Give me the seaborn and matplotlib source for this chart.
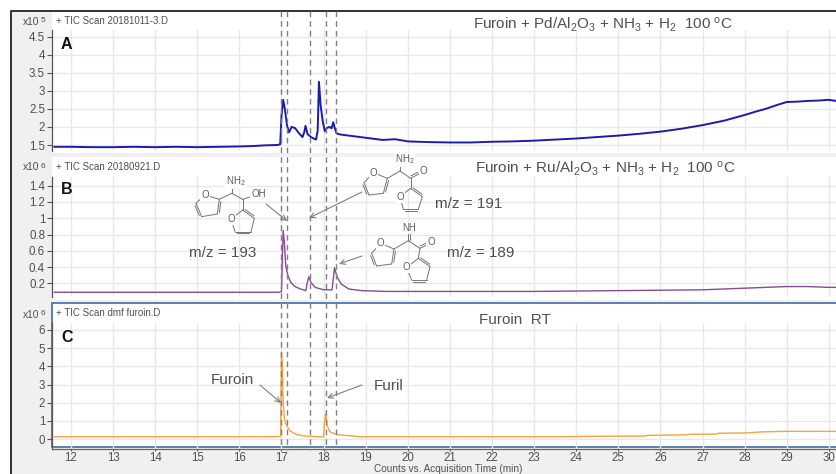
import matplotlib
matplotlib.use("Agg")
import matplotlib.pyplot as plt
import seaborn as sns
from matplotlib.lines import Line2D
from matplotlib.patches import Rectangle

sns.set_theme(style="white")
plt.rcParams["font.family"] = ["Liberation Sans", "DejaVu Sans"]
plt.rcParams["mathtext.fontset"] = "custom"
plt.rcParams["mathtext.rm"] = "Liberation Sans"
plt.rcParams["mathtext.it"] = "Liberation Sans"
plt.rcParams["mathtext.default"] = "regular"

W, H = 836, 474
XLIM = (11.55, 30.17)
x_ticks = list(range(12, 31))

time_a = [11.6,12,12.5,13,13.5,14,14.5,15,15.5,16,16.3,16.6,16.9,16.97,17.0,17.04,17.08,17.13,17.18,17.24,17.32,17.42,17.5,17.54,17.57,17.62,17.7,17.78,17.82,17.86,17.89,17.93,17.98,18.03,18.08,18.14,18.19,18.23,18.27,18.31,18.4,18.6,19,19.4,19.7,20,20.5,21,21.5,22,22.5,23,23.5,24,24.5,25,25.5,26,26.5,27,27.5,28,28.25,28.5,28.75,29,29.25,29.5,29.75,30,30.17]
val_a = [1.45,1.45,1.44,1.44,1.45,1.44,1.45,1.44,1.45,1.46,1.47,1.49,1.5,1.52,2.3,2.75,2.5,2.05,1.85,2.0,1.97,1.82,1.72,1.85,2.03,1.8,1.72,1.67,1.65,1.9,3.25,2.6,2.15,1.88,1.97,2.0,1.96,2.13,1.95,1.82,1.79,1.76,1.7,1.64,1.66,1.6,1.58,1.57,1.57,1.59,1.6,1.62,1.65,1.68,1.72,1.76,1.81,1.87,1.95,2.05,2.17,2.33,2.42,2.5,2.6,2.69,2.7,2.72,2.73,2.75,2.72]

time_b = [11.6,13,15,16,16.95,17.0,17.04,17.07,17.1,17.15,17.22,17.32,17.45,17.58,17.61,17.65,17.7,17.8,18.0,18.2,18.23,18.26,18.32,18.42,18.6,18.9,19.5,21,23,25,27,28,29,29.5,30,30.17]
val_b = [0.09,0.09,0.09,0.09,0.09,0.1,0.85,0.7,0.42,0.3,0.21,0.16,0.13,0.11,0.2,0.28,0.21,0.15,0.12,0.12,0.25,0.39,0.28,0.19,0.13,0.11,0.1,0.1,0.1,0.11,0.12,0.14,0.16,0.16,0.15,0.15]

time_c = [11.6,13,15,16,16.9,16.98,17.0,17.02,17.04,17.07,17.12,17.2,17.35,17.55,17.8,18.0,18.02,18.05,18.09,18.15,18.3,18.5,18.72,18.85,20,22,23.5,24.5,25.6,25.7,26.6,26.7,27.3,27.4,28,28.4,28.9,29.5,30.17]
val_c = [0.12,0.12,0.12,0.12,0.13,0.15,4.75,4.0,2.0,1.1,0.75,0.45,0.25,0.17,0.13,0.12,0.9,1.4,0.7,0.4,0.25,0.2,0.16,0.12,0.12,0.12,0.12,0.15,0.16,0.2,0.23,0.26,0.27,0.32,0.33,0.39,0.42,0.42,0.42]

a_ticks = [1.5,2,2.5,3,3.5,4,4.5]
b_ticks = [0.2,0.4,0.6,0.8,1,1.2,1.4]
c_ticks = [0,1,2,3,4,5,6]
dash_times = [16.98,17.13,17.67,18.06,18.30]

GREY = "#f0f0f0"; GRID = "#e8e8e8"; TXT = "#505050"; ANN = "#5c5c5c"

fig = plt.figure(figsize=(W/100, H/100), dpi=100, facecolor="white")
bg = fig.add_axes([0, 0, 1, 1], zorder=0)
bg.set_xlim(0, W); bg.set_ylim(H, 0); bg.axis("off")
bg.add_patch(Rectangle((10, 11), W-10, H-11, fc=GREY, ec="none"))
for top, bot in [(12, 153), (157, 300)]:
    bg.add_patch(Rectangle((52, top), W-52, bot-top, fc="white", ec="none"))
bg.add_patch(Rectangle((52, 303), W-50, 143.5, fc="white", ec="#4f74ad", lw=1.3))
bg.add_line(Line2D([10.5, 10.5, W], [H, 10.8, 10.8], color="#222222", lw=1.3))

def panel(top, bottom, t0, v0, t1, v1, time, val, color, ticks, labels, lw):
    ax = fig.add_axes([52/W, 1-bottom/H, (W-52)/W, (bottom-top)/H], zorder=2)
    ax.patch.set_alpha(0)
    scale = (v1-v0)/(t0-t1)      # value per pixel
    sns.lineplot(x=time, y=val, ax=ax, color=color, lw=lw, estimator=None, errorbar=None)
    ax.set_ylim(v0-(bottom-t0)*scale, v1+(t1-top)*scale)
    ax.set_xlim(*XLIM)
    ax.set_xticks(x_ticks); ax.set_yticks(ticks); ax.set_yticklabels(labels)
    ax.grid(True, color=GRID, lw=1.0); ax.set_axisbelow(True)
    for s in ["top", "right", "bottom"]:
        ax.spines[s].set_visible(False)
    ax.spines["left"].set_color("#555555"); ax.spines["left"].set_linewidth(0.9)
    ax.tick_params(axis="y", left=True, length=3.5, width=0.8, color="#555555", labelsize=8.3, labelcolor=TXT, pad=1.5)
    ax.tick_params(axis="x", bottom=False, labelbottom=False)
    return ax

panel(30, 151, 145, 1.5, 36.6, 4.5, time_a, val_a, "#1c1ca8", a_ticks, ["1.5","2","2.5","3","3.5","4","4.5"], 1.4)
panel(177, 297, 283.3, 0.2, 185.7, 1.4, time_b, val_b, "#8a4a94", b_ticks, ["0.2","0.4","0.6","0.8","1","1.2","1.4"], 1.0)
ax_c = panel(323, 449, 439, 0, 330, 6, time_c, val_c, "#f4a340", c_ticks, [str(v) for v in c_ticks], 1.0)
ax_c.spines["bottom"].set_visible(True); ax_c.spines["bottom"].set_color("#666666"); ax_c.spines["bottom"].set_linewidth(0.9)
ax_c.tick_params(axis="x", bottom=True, labelbottom=True, length=1.5, width=0.8, color="#555555", labelsize=8.3, labelcolor=TXT, pad=0.5)
ax_c.set_xticklabels([str(t) for t in x_ticks])
ax_c.set_xlabel("")

# overlay in pixel coordinates
ov = fig.add_axes([0, 0, 1, 1], zorder=5)
ov.set_xlim(0, W); ov.set_ylim(H, 0); ov.axis("off"); ov.patch.set_alpha(0)
for t in dash_times:
    x = 52 + (t-XLIM[0])/(XLIM[1]-XLIM[0])*(W-52)
    ov.plot([x, x], [11, 450], color="#808080", lw=1.0, ls=(0, (4, 3)))

def T(x, y, s, size=8, color=TXT, ha="left", **kw):
    ov.text(x, y, s, fontsize=size, color=color, ha=ha, va="center", **kw)

for y, txt, exp in [(20.5, "+ TIC Scan 20181011-3.D", "5"), (166.5, "+ TIC Scan 20180921.D", "6"), (313.5, "+ TIC Scan dmf furoin.D", "6")]:
    T(56, y, txt, size=7)
    T(23, y+1, "x10", size=7.4)
    T(41, y, exp, size=6)
for y, s in [(44, "A"), (190, "B"), (337, "C")]:
    T(61, y, s, size=11.5, color="#111111", fontweight="bold")
T(603, 25, r"Furoin + Pd/Al$_2$O$_3$ + NH$_3$ + H$_2$  100 $^{o}$C", size=11, ha="center")
T(605, 169, r"Furoin + Ru/Al$_2$O$_3$ + NH$_3$ + H$_2$  100 $^{o}$C", size=11, ha="center")
T(515, 320, "Furoin  RT", size=11, ha="center")
T(223, 253, "m/z = 193", size=11, ha="center")
T(469, 204, "m/z = 191", size=11, ha="center")
T(481, 253, "m/z = 189", size=11, ha="center")
T(232, 380, "Furoin", size=11, ha="center")
T(389, 386, "Furil", size=11, ha="center")
T(448, 468.5, "Counts vs. Acquisition Time (min)", size=7.2, ha="center")

def arrow(x0, y0, x1, y1):
    ov.annotate("", xy=(x1, y1), xytext=(x0, y0),
                arrowprops=dict(arrowstyle="->", color="#808080", lw=0.8, mutation_scale=9, shrinkA=0, shrinkB=0))
arrow(266, 204, 287, 221); arrow(362, 192, 309, 218); arrow(362, 256, 339, 264)
arrow(260, 385, 281, 403); arrow(362, 385, 327, 398)

def P(p):
    return 170 + p[0]/3, 150 + p[1]/3
def bond(a, b, off=0):
    (x0, y0), (x1, y1) = P(a), P(b)
    if off:
        dx, dy = x1-x0, y1-y0
        n = (dx*dx+dy*dy)**.5
        x0 += -dy/n*off; y0 += dx/n*off; x1 += -dy/n*off; y1 += dx/n*off
        x0 += dx*.12; y0 += dy*.12; x1 -= dx*.12; y1 -= dy*.12
    ov.plot([x0, x1], [y0, y1], color="#757575", lw=0.7, solid_capstyle="round")
def label(p, s):
    x, y = P(p)
    ov.text(x, y, s, fontsize=7, color=ANN, ha="center", va="center",
            bbox=dict(fc="white", ec="none", pad=0.6))
def furan(O, c2, c3, c4, c5, off_sign=1):
    for a, b in [(O, c2), (c2, c3), (c3, c4), (c4, c5), (c5, O)]:
        bond(a, b)
    bond(c2, c3, off=-1.8*off_sign); bond(c4, c5, off=-1.8*off_sign)
    label(O, "O")

# m/z 193
furan((105,135),(148,148),(142,192),(95,200),(78,160))
furan((183,207),(218,180),(253,205),(243,245),(195,245))
bond((148,148),(185,130)); bond((185,130),(185,108)); bond((185,130),(218,148))
bond((218,148),(243,140)); bond((218,148),(218,180))
label((198,93), r"NH$_2$"); label((265,132), "OH")
# m/z 191
furan((610,68),(652,85),(640,130),(597,135),(582,98))
furan((690,140),(722,115),(757,140),(745,178),(700,178))
bond((652,85),(690,63)); bond((690,63),(690,42)); bond((690,63),(722,85))
bond((722,85),(750,70)); bond((722,85),(750,70), off=-2); bond((722,85),(722,115))
label((703,27), r"NH$_2$"); label((760,64), "O")
# m/z 189
furan((632,280),(672,297),(665,342),(620,348),(605,310))
furan((710,352),(745,325),(780,350),(770,390),(725,390))
bond((672,297),(715,272)); bond((715,272),(715,250)); bond((715,272),(715,250), off=2)
bond((715,272),(750,295)); bond((750,295),(775,283)); bond((750,295),(775,283), off=-2); bond((750,295),(745,325))
label((718,235), "NH"); label((783,277), "O")

fig.savefig("out.png", dpi=100)
